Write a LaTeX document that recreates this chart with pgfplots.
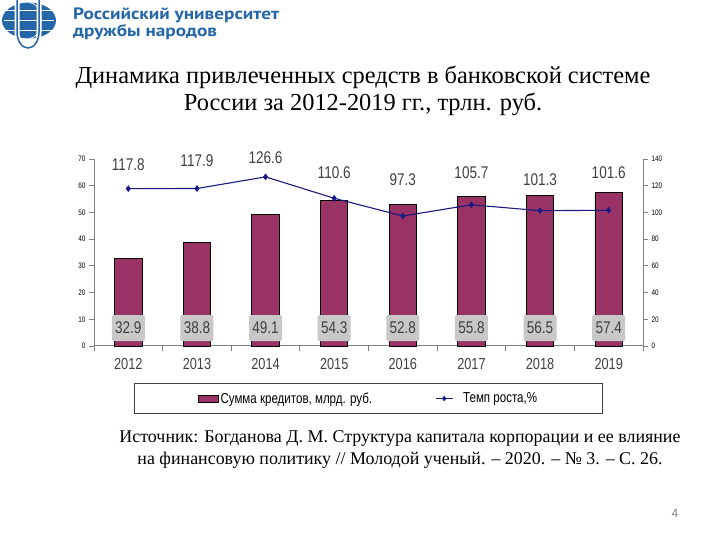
\documentclass[border=0pt]{standalone}
\usepackage{fontspec}
\usepackage{pgfplots}
\usepackage{pgfplotstable}
\pgfplotsset{compat=1.18}
\setmainfont{Liberation Serif}
\newfontfamily\arialn[FakeStretch=0.8]{Liberation Sans}
\newfontfamily\arial{Liberation Sans}
\newfontfamily\logofont[FakeStretch=1.17, BoldFeatures={FakeStretch=1.17}]{PT Sans}

\definecolor{barred}{HTML}{993366}
\definecolor{navy}{HTML}{1A1A80}
\definecolor{lblgray}{HTML}{404040}
\definecolor{boxgray}{HTML}{C8C8C8}
\definecolor{axgray}{HTML}{808080}
\definecolor{rudnblue}{HTML}{2466A8}

% x: position, credit: bar value, rate: growth %, ly: label height (right axis)
\pgfplotstableread{
x credit rate ly
0 32.9 117.8 135.5
1 38.8 117.9 138.5
2 49.1 126.6 141.2
3 54.3 110.6 130.0
4 52.8 97.3 124.3
5 55.8 105.7 130.0
6 56.5 101.3 124.3
7 57.4 101.6 130.0
}\loans

\pgfplotsset{
  slideaxis/.style={
    scale only axis, width=549bp, height=187bp,
    at={(94bp,194bp)}, anchor=south west,
    xmin=-0.5, xmax=7.5, ymin=0, clip=false,
    axis line style={draw=axgray, line width=1bp},
    tick style={draw=axgray, line width=0.8bp},
    tick align=outside, major tick length=5bp,
    /pgf/number format/assume math mode=true,
    yticklabel style={font=\arialn\fontsize{8}{9}\selectfont, text=black},
  },
  ratelegend/.style={
    legend image code/.code={%
      \draw[##1, mark=none] (0bp,0bp) -- (17bp,0bp);
      \draw[##1] plot[only marks] coordinates {(8.5bp,0bp)};}
  },
}

\begin{document}
\begin{tikzpicture}[x=1bp,y=1bp]
\path[use as bounding box] (0,0) rectangle (720,540);

% logo
\fill[rudnblue] (29,519.5) ellipse [x radius=27, y radius=18];
\foreach \dy in {-10,0,10}
  \draw[white, line width=0.6bp] (4,519.5+\dy) -- (54,519.5+\dy);
\draw[white, line width=0.6bp] (29,501.5) arc[start angle=-90, end angle=90, x radius=12, y radius=18];
\draw[white, line width=5bp] (17,540) -- (17,508) arc[start angle=180, end angle=360, x radius=11, y radius=16] -- (39,540);
\draw[rudnblue, line width=1.5bp] (17,540) -- (17,508) arc[start angle=180, end angle=360, x radius=11, y radius=16] -- (39,540);
\node[anchor=base west, text=rudnblue, font=\logofont\bfseries\fontsize{16.5}{17}\selectfont, inner sep=0pt]
  at (73,520) {Российский университет};
\node[anchor=base west, text=rudnblue, font=\logofont\bfseries\fontsize{16.5}{17}\selectfont, inner sep=0pt]
  at (73,503.5) {дружбы народов};

% title
\node[align=center, font=\fontsize{24.5}{27}\selectfont] at (363,449.5)
  {Динамика привлеченных средств в банковской системе\\России за 2012-2019 гг., трлн. руб.};

% bars, left axis
\begin{axis}[slideaxis,
  axis x line*=bottom, axis y line*=left,
  ymax=70, ytick={0,10,...,70},
  xtick={-0.5,0.5,...,7.5}, x tick label as interval,
  xticklabels={2012,2013,2014,2015,2016,2017,2018,2019},
  xticklabel style={font=\arialn\fontsize{16}{18}\selectfont, text=lblgray, yshift=-4bp},
  legend columns=2,
  legend style={at={(0.5,-0.281)}, anchor=center, draw=black!75, line width=1.3bp,
    inner xsep=63.5bp, inner ysep=7bp, font=\arialn\fontsize{14.5}{16}\selectfont,
    /tikz/every even column/.append style={column sep=61bp}},
  legend image code/.code={\draw[#1, line width=0.8bp] (0cm,-0.12cm) rectangle (0.7cm,0.12cm);},
]
\addplot[ybar, bar width=0.4, fill=barred, draw=black, line width=0.9bp]
  table[x=x, y=credit] {\loans};
\addlegendentry{Сумма кредитов, млрд. руб.}
\addlegendimage{ratelegend, navy, line width=1bp, mark=diamond*, mark size=2bp}
\addlegendentry{\hspace*{8bp}Темп роста,\%}
\addplot[draw=none, nodes near coords, point meta=explicit,
  every node near coord/.append style={anchor=center, fill=boxgray, rounded corners=1.5bp,
    text=lblgray, font=\arialn\fontsize{17}{18}\selectfont,
    minimum width=33bp, minimum height=26bp, inner xsep=2bp}]
  table[x=x, y expr=6.7, meta=credit] {\loans};
\end{axis}

% growth rate, right axis
\begin{axis}[slideaxis,
  axis x line=none, axis y line*=right,
  ymax=140, ytick={0,20,...,140},
]
\addplot[navy, line width=1.1bp, mark=diamond*, mark size=2.5bp]
  table[x=x, y=rate] {\loans};
\addplot[draw=none, nodes near coords, point meta=explicit,
  every node near coord/.append style={anchor=center, text=lblgray,
    font=\arialn\fontsize{17}{18}\selectfont}]
  table[x=x, y=ly, meta=rate] {\loans};
\end{axis}

% source
\node[align=center, font=\fontsize{18}{23}\selectfont] at (400,90.5)
  {Источник: Богданова Д. М. Структура капитала корпорации и ее влияние\\на финансовую политику // Молодой ученый. -- 2020. -- № 3. -- С. 26.};

\node[text=gray, font=\arial\fontsize{12}{14}\selectfont] at (675,27) {4};
\end{tikzpicture}
\end{document}
